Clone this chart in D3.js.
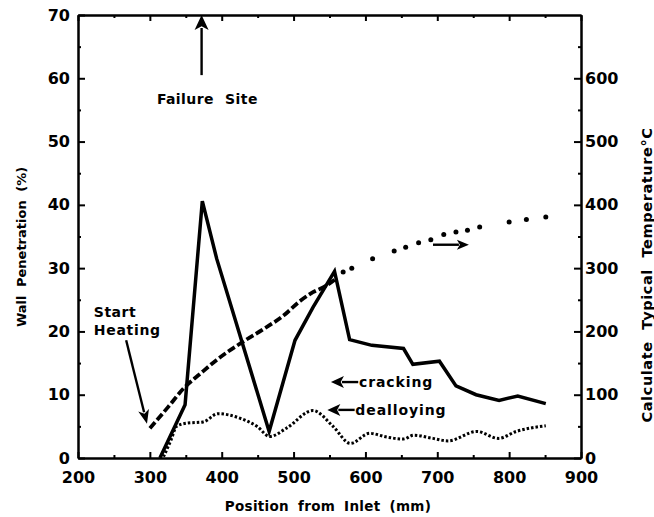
<!DOCTYPE html>
<html><head><meta charset="utf-8">
<script src="https://cdn.jsdelivr.net/npm/d3@7"></script>
<style>
body{margin:0;background:#fff}
text{font-family:"DejaVu Sans",sans-serif;font-weight:bold;fill:#000}
</style></head><body><svg id="chart" width="654" height="517"></svg>
<script>
// Wall penetration by cracking (%) along the tube, position in mm
const crackX = [314, 349, 373, 393, 466, 502, 527, 557, 578, 609, 653, 666, 703, 726, 754, 786, 812, 851];
const crackY = [0, 8.4, 40.6, 31.5, 4.2, 18.6, 23.8, 29.5, 18.7, 17.8, 17.3, 14.8, 15.3, 11.4, 10.0, 9.1, 9.8, 8.6];

// Wall penetration by dealloying (%)
const dealX = [319, 330, 337, 351, 374, 395, 425, 449, 467, 490, 527, 555, 579, 606, 630, 653, 667, 694, 715, 755, 785, 810, 851];
const dealY = [0.2, 3, 5, 5.5, 5.7, 7.0, 6.3, 5.0, 3.4, 4.7, 7.5, 5.0, 2.3, 3.9, 3.3, 3.0, 3.6, 3.1, 2.7, 4.2, 3.1, 4.2, 5.1];

// Calculated typical temperature (°C): dashed section, then individual points
const tempLineX = [300, 325, 347, 370, 393, 430, 460, 486, 509, 527, 545, 560];
const tempLineC = [47, 80, 110, 133, 155, 184, 205, 225, 248, 262, 272, 284];
const tempDotX = [569, 581, 610, 640, 656, 674, 691, 709, 726, 742, 759, 800, 824, 851];
const tempDotC = [294, 300, 315, 327, 333, 340, 345, 353, 357, 360, 365, 373, 377, 381];

// Axis ticks
const xTicks = [200, 300, 400, 500, 600, 700, 800, 900];
const xMinor = [250, 350, 450, 550, 650, 750, 850];
const leftTicks = [0, 10, 20, 30, 40, 50, 60, 70];
const leftMinor = [5, 15, 25, 35, 45, 55, 65];
const rightTicks = [0, 100, 200, 300, 400, 500, 600];
const rightMinor = [50, 150, 250, 350, 450, 550, 650];

const xTitle = "Position from Inlet (mm)";
const leftTitle = "Wall Penetration (%)";
const rightTitle = "Calculate Typical Temperature°C";

const svg = d3.select("#chart");
const L = 78, R = 581, T = 15, B = 458;
const x = d3.scaleLinear([200, 900], [L, R]);
const y = d3.scaleLinear([0, 70], [B, T]);
const yT = d3.scaleLinear([0, 700], [B, T]);

function styleAxis(g) {
  g.select(".domain").attr("stroke", "#000").attr("stroke-width", 2);
  g.selectAll(".tick line").attr("stroke", "#000").attr("stroke-width", 2);
  g.selectAll("text").attr("font-size", 16).attr("font-family", null).attr("fill", "#000");
}

// Bottom axis
svg.append("g").attr("transform", `translate(0,${B})`)
  .call(d3.axisBottom(x).tickValues(xTicks).tickSize(-6).tickSizeOuter(0).tickPadding(14).tickFormat(d3.format("d")))
  .call(styleAxis);
svg.append("g").attr("transform", `translate(0,${B})`)
  .call(d3.axisBottom(x).tickValues(xMinor).tickSize(-3).tickSizeOuter(0).tickFormat(""))
  .call(styleAxis);
// Top axis
svg.append("g").attr("transform", `translate(0,${T})`)
  .call(d3.axisTop(x).tickValues(xTicks).tickSize(-6).tickSizeOuter(0).tickFormat(""))
  .call(styleAxis);
svg.append("g").attr("transform", `translate(0,${T})`)
  .call(d3.axisTop(x).tickValues(xMinor).tickSize(-3).tickSizeOuter(0).tickFormat(""))
  .call(styleAxis);
// Left axis
svg.append("g").attr("transform", `translate(${L},0)`)
  .call(d3.axisLeft(y).tickValues(leftTicks).tickSize(-7).tickSizeOuter(0).tickPadding(8).tickFormat(d3.format("d")))
  .call(styleAxis);
svg.append("g").attr("transform", `translate(${L},0)`)
  .call(d3.axisLeft(y).tickValues(leftMinor).tickSize(-3).tickSizeOuter(0).tickFormat(""))
  .call(styleAxis);
// Right axis (temperature)
svg.append("g").attr("transform", `translate(${R},0)`)
  .call(d3.axisRight(yT).tickValues(rightTicks).tickSize(-7).tickSizeOuter(0).tickPadding(4).tickFormat(d3.format("d")))
  .call(styleAxis);
svg.append("g").attr("transform", `translate(${R},0)`)
  .call(d3.axisRight(yT).tickValues(rightMinor).tickSize(-3).tickSizeOuter(0).tickFormat(""))
  .call(styleAxis);

// Axis titles
svg.append("text").attr("x", 328).attr("y", 511).attr("text-anchor", "middle")
  .attr("font-size", 13.5).attr("letter-spacing", 0.3).attr("word-spacing", 4).text(xTitle);
svg.append("text").attr("transform", "translate(26,247) rotate(-90)")
  .attr("text-anchor", "middle").attr("font-size", 13).attr("word-spacing", 4).text(leftTitle);
svg.append("text").attr("transform", "translate(652,275) rotate(-90)")
  .attr("text-anchor", "middle").attr("font-size", 14.5).attr("letter-spacing", 0.6).attr("word-spacing", 6).text(rightTitle);

// Cracking curve
svg.append("path")
  .attr("d", d3.line().x((d, i) => x(crackX[i])).y(d => y(d))(crackY))
  .attr("fill", "none").attr("stroke", "#000").attr("stroke-width", 3.5).attr("stroke-linejoin", "miter");

// Dealloying curve
svg.append("path")
  .attr("d", d3.line().x((d, i) => x(dealX[i])).y(d => y(d)).curve(d3.curveMonotoneX)(dealY))
  .attr("fill", "none").attr("stroke", "#000").attr("stroke-width", 3).attr("stroke-dasharray", "2.5,2");

// Temperature: dashed section
svg.append("path")
  .attr("d", d3.line().x((d, i) => x(tempLineX[i])).y(d => yT(d)).curve(d3.curveMonotoneX)(tempLineC))
  .attr("fill", "none").attr("stroke", "#000").attr("stroke-width", 3.8).attr("stroke-dasharray", "8,3");
// Temperature: points
svg.append("g").selectAll("circle").data(tempDotC).join("circle")
  .attr("cx", (d, i) => x(tempDotX[i])).attr("cy", d => yT(d)).attr("r", 2.5).attr("fill", "#000");

// Arrow helper: line from (x1,y1) to (x2,y2) in pixels, filled head at the end
function arrow(x1, y1, x2, y2, headLen, headW) {
  const dx = x2 - x1, dy = y2 - y1, len = Math.hypot(dx, dy);
  const ux = dx / len, uy = dy / len;
  const bx = x2 - ux * headLen, by = y2 - uy * headLen;
  svg.append("line").attr("x1", x1).attr("y1", y1).attr("x2", bx + ux * 2).attr("y2", by + uy * 2)
    .attr("stroke", "#000").attr("stroke-width", 2.4);
  const px = -uy * headW / 2, py = ux * headW / 2;
  svg.append("path").attr("d", `M${x2},${y2}L${bx + px},${by + py}L${bx + ux * headLen * 0.25},${by + uy * headLen * 0.25}L${bx - px},${by - py}Z`)
    .attr("fill", "#000");
}

// Failure site marker
arrow(x(372), y(60.5), x(372), y(70), 15, 14);
svg.append("text").attr("x", x(380)).attr("y", y(56.7)).attr("dy", "0.36em").attr("text-anchor", "middle")
  .attr("font-size", 14).attr("letter-spacing", 0.4).attr("word-spacing", 6).text("Failure Site");

// Start heating marker
svg.append("text").attr("x", x(222)).attr("y", y(23.1)).attr("dy", "0.36em").attr("font-size", 14).attr("letter-spacing", 0.5).text("Start");
svg.append("text").attr("x", x(222)).attr("y", y(20.2)).attr("dy", "0.36em").attr("font-size", 14).attr("letter-spacing", 0.7).text("Heating");
arrow(x(267), y(18.6), x(296), y(5.4), 14, 11);

// Series labels
arrow(x(590), y(12.0), x(552), y(12.0), 13, 12);
svg.append("text").attr("x", x(591)).attr("y", y(12.0)).attr("dy", "0.36em").attr("font-size", 14).attr("letter-spacing", 0.9).text("cracking");
arrow(x(585), y(7.6), x(547), y(7.6), 13, 12);
svg.append("text").attr("x", x(586)).attr("y", y(7.6)).attr("dy", "0.36em").attr("font-size", 14).attr("letter-spacing", 0.9).text("dealloying");

// Temperature axis pointer
arrow(x(694), yT(337), x(744), yT(337), 12, 10);
</script></body></html>
